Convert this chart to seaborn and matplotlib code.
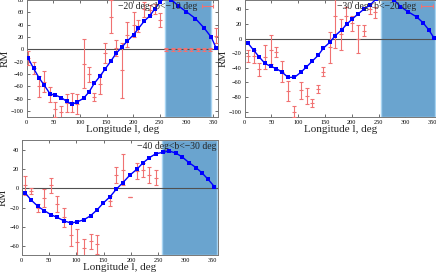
import numpy as np
import pandas as pd
import seaborn as sns
import matplotlib.pyplot as plt
from matplotlib.lines import Line2D

# ---- panel 1 : -20 < b < -10
obs1_l = [3, 13, 24, 33, 44, 54, 65, 75, 85, 95, 107, 117, 127, 138, 148, 158, 168,
          179, 189, 201, 210, 221, 231, 241, 251, 262, 274, 286, 298, 309, 321, 333, 345, 355]
obs1_rm = [-14, -30, -60, -52, -73, -97, -102, -87, -86, -88, -23, -40, -77, -56, -6, 53, 3,
           -34, 24, 40, 38, 65, 64, 66, 48, 0, 0, 0, 0, 0, 0, 0, 0, 22]
obs1_err = [11, 9, 17, 17, 12, 12, 10, 15, 15, 16, 40, 12, 7, 16, 16, 27, 13,
            45, 20, 20, 9.5, 12, 8, 8, 11, 2, 2, 2, 2, 2, 2, 2, 2, 12]
mod1_l = [3, 13, 24, 33, 44, 54, 65, 75, 85, 95, 107, 117, 127, 138, 148, 158, 168, 179,
          189, 201, 210, 221, 231, 241, 251, 262, 272, 284, 300, 317, 334, 347, 356]
mod1_rm = [-14.6, -30.8, -47, -58, -72, -74, -78, -84, -89, -85, -79, -69, -55, -43, -31, -19,
           -6.5, 4, 13.5, 24, 34, 46, 54, 66, 77, 86, 80.5, 71, 61, 50, 34, 19.5, 2]

# ---- panel 2 : -30 < b < -20
obs2_l = [6, 17, 27, 38, 49, 59, 70, 81, 93, 105, 116, 126, 137, 147, 159, 168, 179,
          190, 201, 212, 223, 234, 244]
obs2_rm = [-24, -24, -42, -25, -15, -18, -45, -72, -100, -71, -79, -88, -69, -45, -12, 31, 6,
           31, 21, 0, 11, 41, 36]
obs2_err = [8, 9, 9, 16, 20, 7, 15, 14, 8, 11, 11, 5, 6, 6, 21, 44, 21,
            12, 10, 19, 7.5, 7, 8]
mod2_l = [6, 17, 27, 38, 49, 59, 70, 81, 93, 105, 115, 126, 137, 147, 159, 169, 181, 191,
          201, 212, 222, 234, 245, 256, 267, 279, 291, 305, 321, 333, 344, 354]
mod2_rm = [-6, -16, -25, -34, -38, -41, -46, -53, -53, -46, -39, -31, -23, -13, -5, 4, 12, 20,
           27, 34, 40, 46, 54, 58, 59, 53, 44, 37, 30, 22, 12, 0.5]

# ---- panel 3 : -40 < b < -30
obs3_l = [6, 17, 30, 41, 54, 65, 78, 90, 102, 114, 126, 138, 162, 173, 185, 198, 211, 222, 234, 246]
obs3_rm = [3, -3, -20, -10, 3, -16, -30, -48, -56, -62, -55, -58, -13, 14, 19, -9, 18, 19, 14, 11]
obs3_err = [10, 3, 4, 9, 8, 8, 10, 12, 14, 10, 8, 10, 5, 8, 16, 0, 8, 7, 8, 8]
mod3_l = [6, 17, 30, 41, 54, 65, 78, 90, 102, 114, 126, 138, 149, 162, 173, 185, 198, 211,
          222, 234, 246, 259, 270, 282, 294, 306, 319, 330, 341, 353]
mod3_rm = [-4.5, -12, -18.8, -23, -27.4, -30.1, -33.8, -35.9, -34.6, -32.5, -28.4, -22.3, -15.4,
           -8.6, -1, 5.7, 13.6, 19.8, 26.3, 31.8, 35.9, 37.2, 38.6, 36.5, 32.4, 26.7, 21.5, 16, 9.5, 1.6]

labels = ["\u221220 deg<b<\u221210 deg", "\u221230 deg<b<\u221220 deg", "\u221240 deg<b<\u221230 deg"]

sns.set_style("ticks")
plt.rcParams['font.family'] = ['Liberation Serif', 'DejaVu Serif']
plt.rcParams['axes.unicode_minus'] = True

red = "#f07272"
shade = "#6aa4cf"

fig = plt.figure(figsize=(4.36, 2.80), dpi=100)
ax1 = fig.add_axes([0.0612, 0.583, 0.4395, 0.417])
ax2 = fig.add_axes([0.5612, 0.583, 0.4420, 0.417])
ax3 = fig.add_axes([0.0498, 0.0893, 0.4509, 0.4107])

panels = [
    (ax1, obs1_l, obs1_rm, obs1_err, mod1_l, mod1_rm, (-109, 80), (260, 347), np.arange(-100, 81, 20)),
    (ax2, obs2_l, obs2_rm, obs2_err, mod2_l, mod2_rm, (-107, 53), (255, 355), np.arange(-100, 41, 20)),
    (ax3, obs3_l, obs3_rm, obs3_err, mod3_l, mod3_rm, (-69, 50), (257, 357), np.arange(-60, 41, 20)),
]

for i, (ax, ol, orm, oerr, ml, mrm, ylim, span, yt) in enumerate(panels):
    ax.axvspan(span[0], span[1], facecolor=shade, edgecolor="#a8d4f2", lw=1.0, zorder=1)
    ax.axhline(0, color="#505050", lw=0.8, zorder=2)
    ax.errorbar(ol, orm, yerr=oerr, fmt='none', ecolor=red,
                elinewidth=0.8, capsize=1.5, capthick=0.8, zorder=3)
    ax.plot(ol, orm, ls='none', marker='_', ms=2.5, mew=0.8, color=red, zorder=3)
    model = pd.DataFrame({"l": ml, "RM": mrm})
    sns.lineplot(data=model, x="l", y="RM", ax=ax, color="#0000ff", lw=1.0,
                 marker='s', markersize=3, markeredgewidth=0, zorder=4)
    ax.set_xlim(0, 360)
    ax.set_ylim(*ylim)
    ax.set_xticks(np.arange(0, 351, 50))
    ax.set_yticks(yt)
    ax.tick_params(direction='in', length=2.5, width=0.6, labelsize=4.5, pad=2,
                   top=True, right=True, colors="#555555", labelcolor="black")
    for s in ax.spines.values():
        s.set_color("#777777")
        s.set_linewidth(0.7)
    ax.set_xlabel("Longitude l, deg", fontsize=8, labelpad=0.5)
    ax.set_ylabel("RM", fontsize=8, labelpad=1)
    if i < 2:
        h = Line2D([], [], color=red, lw=0.8, marker='|', ms=3, markeredgewidth=0.8)
        ax.legend(handles=[h], labels=[labels[i]], loc='upper right', frameon=False,
                  markerfirst=False, numpoints=2, fontsize=7, handlelength=1.8,
                  handletextpad=0.2, borderaxespad=0.1, borderpad=0.1)
    else:
        ax.text(0.99, 0.985, labels[i], transform=ax.transAxes, ha='right', va='top', fontsize=7)

plt.savefig("out.png", dpi=100)
